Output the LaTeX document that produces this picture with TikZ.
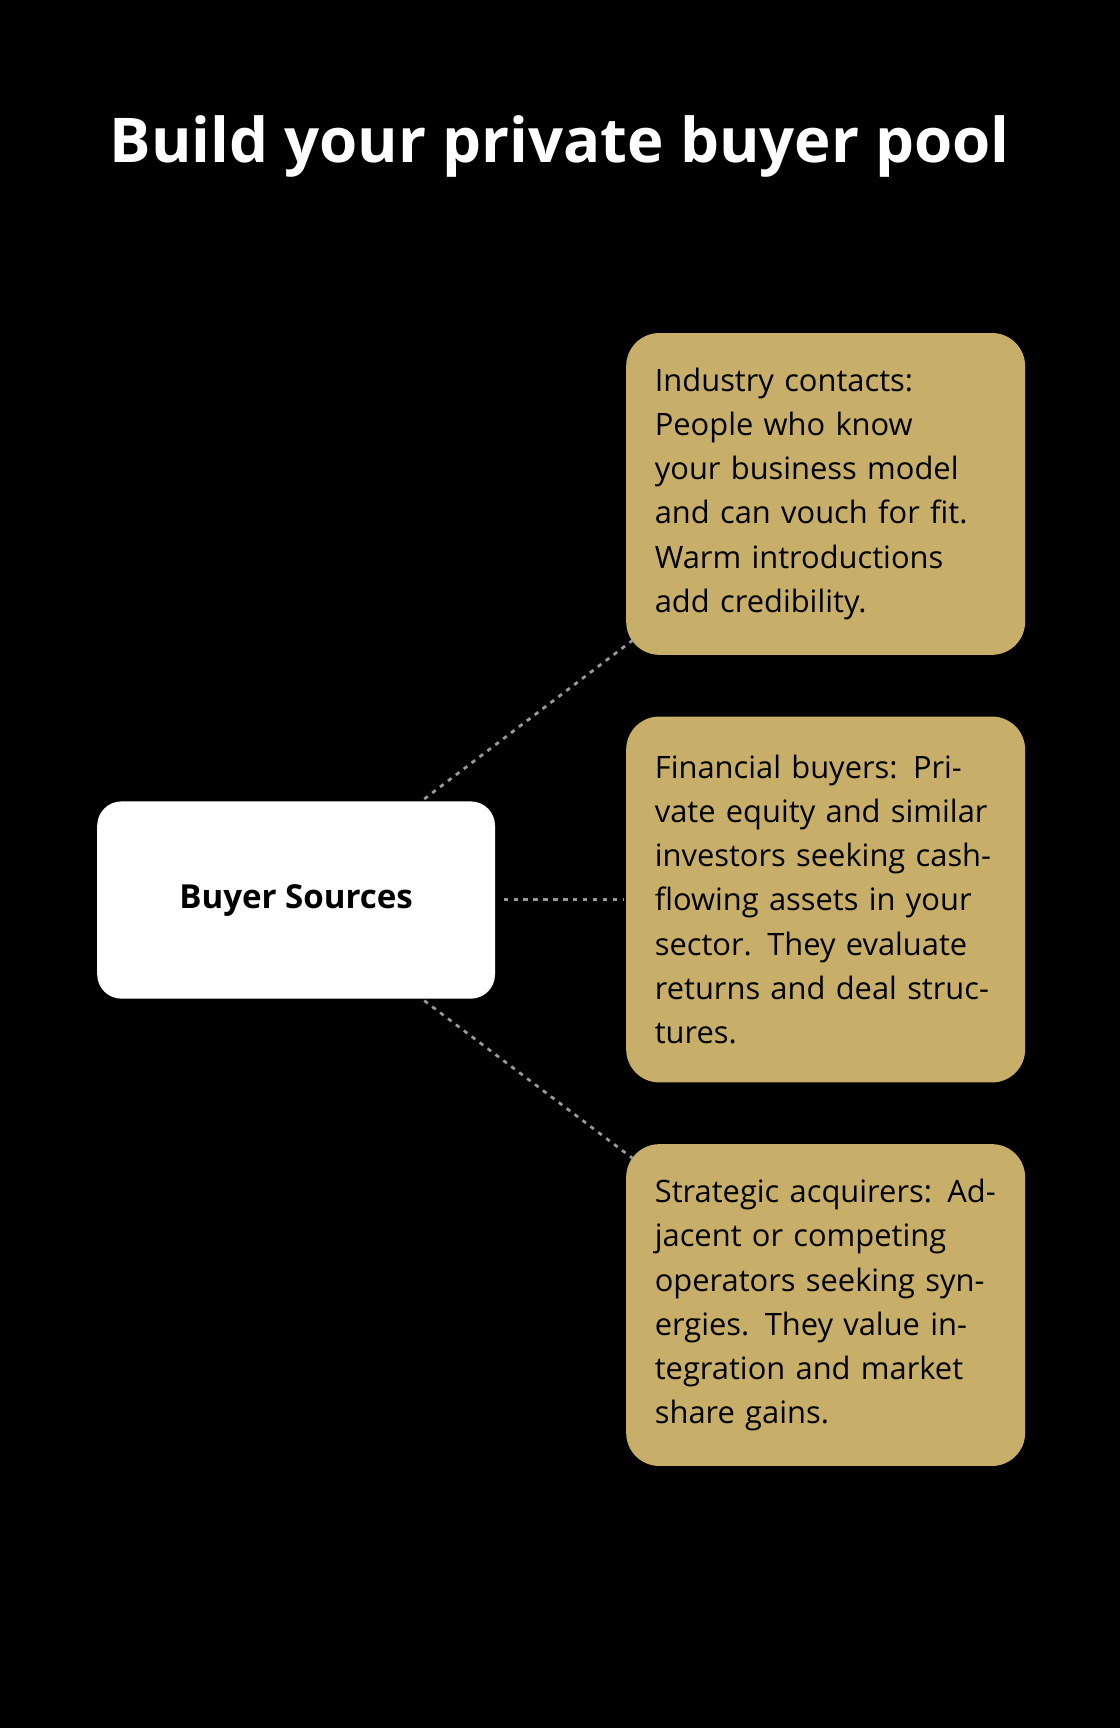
\documentclass[tikz,border=0pt]{standalone}
\usepackage{fontspec}
\setmainfont{Open Sans}
\begin{document}
\begin{tikzpicture}[x=1pt,y=-1pt,
  gold/.style={rectangle,rounded corners=30pt,fill=goldc,minimum width=362pt,text width=310pt,inner xsep=26pt,align=left,font=\fontsize{28}{40}\selectfont,text=black,anchor=north west},
  conn/.style={draw=gray!80,line width=2.5pt,dash pattern=on 4pt off 5pt}]
\definecolor{goldc}{HTML}{C7AE69}
\fill[black] (0,0) rectangle (1016,1568);
\useasboundingbox (0,0) rectangle (1016,1568);
\node[text=white,font=\fontsize{56}{60}\selectfont\bfseries] (title) at (508,133) {Build your private buyer pool};
\node[rectangle,rounded corners=22pt,fill=white,minimum width=361pt,minimum height=179pt,font=\fontsize{30}{36}\selectfont\bfseries,anchor=north west] (src) at (88,727) {Buyer Sources};
\node[gold,minimum height=292pt] (a) at (568,302) {Industry contacts: People who know your business model and can vouch for fit. Warm introductions add credibility.};
\node[gold,minimum height=332pt] (b) at (568,650) {Financial buyers: Private equity and similar investors seeking cash-flowing assets in your sector. They evaluate returns and deal structures.};
\node[gold,minimum height=292pt] (c) at (568,1038) {Strategic acquirers: Adjacent or competing operators seeking synergies. They value integration and market share gains.};
\coordinate (s1) at (385,725); \coordinate (e1) at (574,581);
\coordinate (s2) at (457,816); \coordinate (e2) at (566,816);
\coordinate (s3) at (385,908); \coordinate (e3) at (574,1051);
\draw[conn] (s1) -- (e1);
\draw[conn] (s2) -- (e2);
\draw[conn] (s3) -- (e3);
\end{tikzpicture}
\end{document}
